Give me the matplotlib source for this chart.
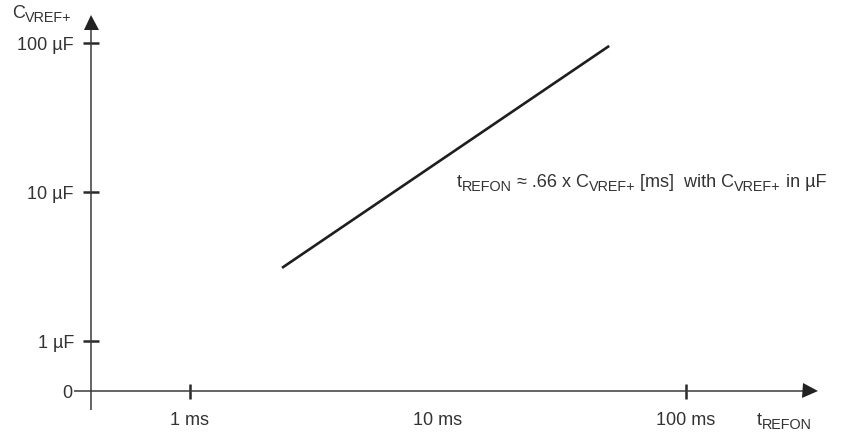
import matplotlib
matplotlib.use('Agg')
import matplotlib.pyplot as plt
from matplotlib import transforms
from matplotlib.font_manager import FontProperties

plt.rcParams['font.family'] = ['Liberation Sans', 'DejaVu Sans']

# ---- data ----
t_refon_ms = [2.35, 49.0]
c_vref_uF = [3.1, 96.0]
y_ticks = [1, 10, 100]
y_tick_labels = ['1 µF', '10 µF', '100 µF']
x_ticks = [1, 100]
x_tick_labels = ['1 ms', '100 ms']
x_label_only = [10]
x_label_only_text = ['10 ms']
zero_label = '0'
# (text, is_subscript) runs
y_title = [('C', False), ('VREF+', True)]
x_title = [('t', False), ('REFON', True)]
note = [('t', False), ('REFON', True), (' ≈ .66 x C', False), ('VREF+', True),
        (' [ms]  with C', False), ('VREF+', True), (' in µF', False)]

# ---- layout ----
W, H, DPI = 847, 433, 100
X1_PX, X_DEC = 190, 248
Y1_PX, Y_DEC = 341, 148.85
TXT = '#333333'
AXC = '#3a3a3a'
FS = 13
SUB_SCALE = 0.8
SUB_DROP = 4


def px2x(px):
    return 10 ** ((px - X1_PX) / X_DEC)


def py2y(py):
    return 10 ** ((Y1_PX - py) / Y_DEC)


fig = plt.figure(figsize=(W / DPI, H / DPI), dpi=DPI)
ax = fig.add_axes([0, 0, 1, 1])
ax.set_xscale('log')
ax.set_yscale('log')
ax.set_xlim(px2x(0), px2x(W))
ax.set_ylim(py2y(H), py2y(0))

axis_x = px2x(91)
axis_y = py2y(391)
for s in ['top', 'right']:
    ax.spines[s].set_visible(False)
ax.spines['left'].set_position(('data', axis_x))
ax.spines['bottom'].set_position(('data', axis_y))
ax.spines['left'].set_visible(False)
ax.spines['bottom'].set_visible(False)

# axis lines with arrow heads
ax.plot([px2x(74), px2x(806)], [axis_y, axis_y], color=AXC, lw=1.1,
        solid_capstyle='butt')
ax.plot([axis_x, axis_x], [py2y(410), py2y(26)], color=AXC, lw=1.1,
        solid_capstyle='butt')
ms = 15 * 72 / DPI
ax.plot([px2x(809.5)], [axis_y], marker='>', ms=ms, color='#222222', mew=0)
ax.plot([axis_x], [py2y(21.5)], marker='^', ms=ms, color='#222222', mew=0)

# ticks
ax.set_yticks(y_ticks, y_tick_labels)
ax.set_yticks([axis_y], [zero_label], minor=True)
ax.set_xticks(x_ticks, x_tick_labels)
ax.set_xticks(x_label_only, x_label_only_text, minor=True)
ax.tick_params(axis='y', which='major', direction='inout', length=11.5,
               width=1.8, pad=6.5, color='#2a2a2a', labelcolor=TXT, labelsize=FS)
ax.tick_params(axis='y', which='minor', length=0, pad=13.5,
               labelcolor=TXT, labelsize=FS)
ax.tick_params(axis='x', which='major', direction='inout', length=10.8,
               width=1.8, pad=9.5, color='#2a2a2a', labelcolor=TXT, labelsize=FS)
ax.tick_params(axis='x', which='minor', length=0, pad=15.0,
               labelcolor=TXT, labelsize=FS)

# main line
ax.plot(t_refon_ms, c_vref_uF, color='#1e1e1e', lw=1.9, solid_capstyle='butt')

# texts with subscripts
renderer = fig.canvas.get_renderer()


def advance(s, fp):
    if not s:
        return 0.0
    w1 = renderer.get_text_width_height_descent('X' + s + 'X', fp, False)[0]
    w0 = renderer.get_text_width_height_descent('XX', fp, False)[0]
    return w1 - w0


def place_runs(x_px, base_px, runs):
    x = x_px
    y = H - base_px
    for s, sub in runs:
        size = FS * SUB_SCALE if sub else FS
        dy = -SUB_DROP if sub else 0
        fp = FontProperties(family=['Liberation Sans', 'DejaVu Sans'], size=size)
        core = s.lstrip(' ')
        lead = s[:len(s) - len(core)]
        x += advance(lead, fp)
        fig.text(x, y + dy, core, transform=transforms.IdentityTransform(),
                 fontproperties=fp, color=TXT, ha='left', va='baseline')
        x += advance(core, fp)


place_runs(12, 18, y_title)
place_runs(757, 425, x_title)
place_runs(457, 187, note)

fig.savefig('out.png', dpi=DPI, facecolor='white')
